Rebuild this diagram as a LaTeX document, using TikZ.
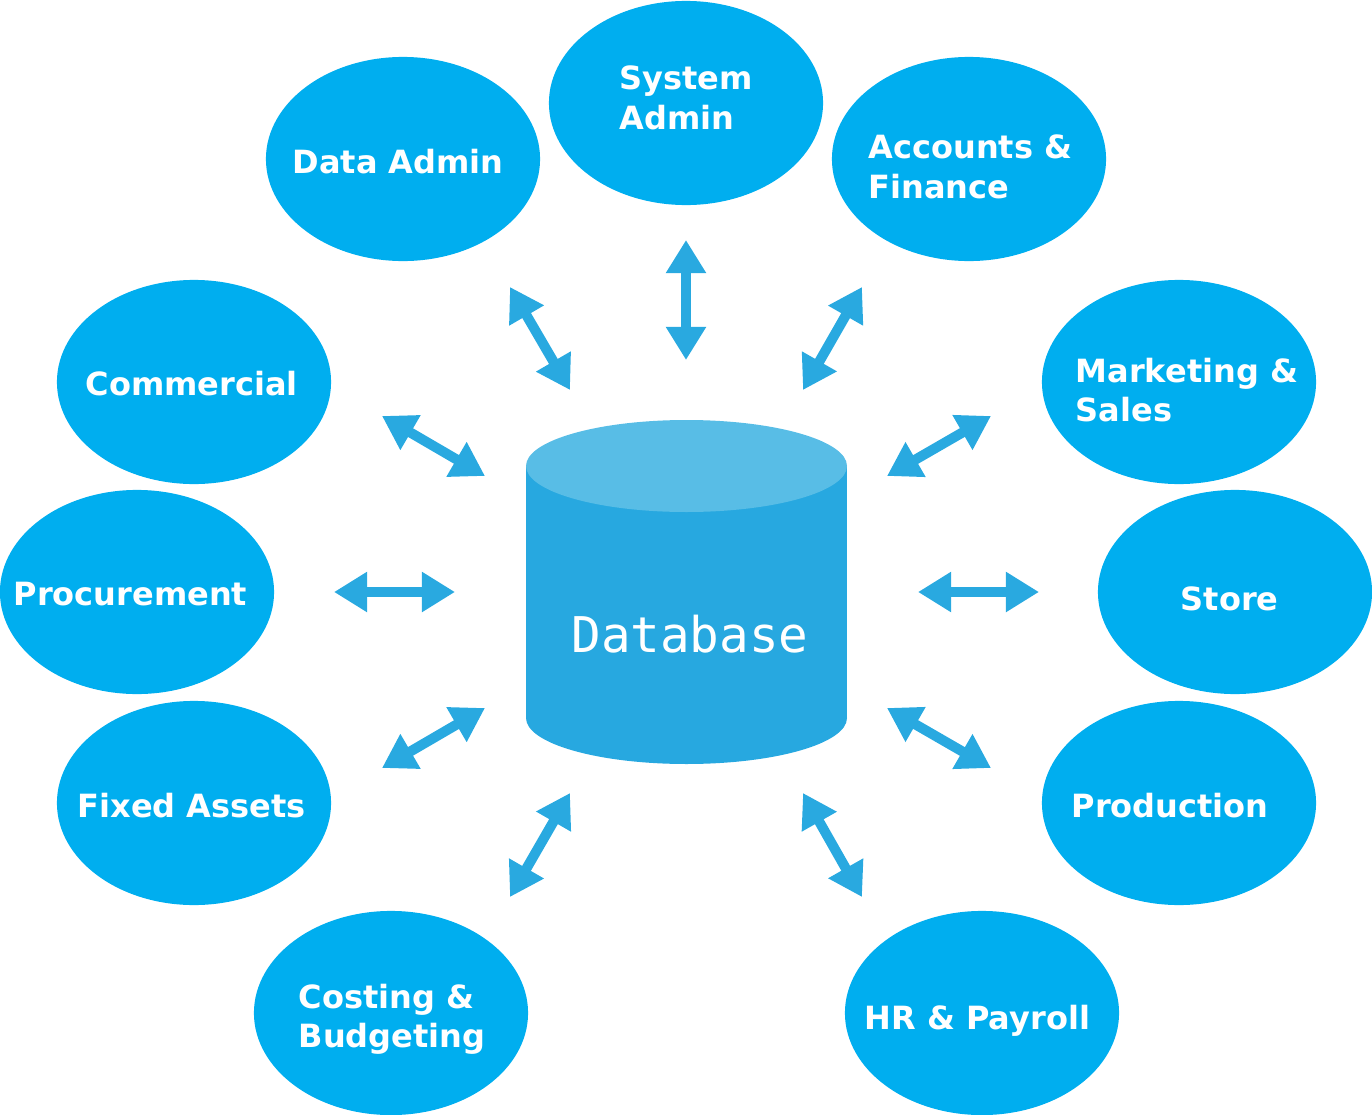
\documentclass[tikz,border=0pt]{standalone}
\usepackage{fontspec}
\setmainfont{DejaVu Sans}
\newfontfamily\dbmono{DejaVu Sans Mono}
\usetikzlibrary{shapes.geometric,arrows.meta}
\definecolor{unitblue}{HTML}{00AEEF}
\definecolor{linkblue}{HTML}{29A9E0}
\definecolor{dbside}{HTML}{27A8E0}
\definecolor{dbtop}{HTML}{58BDE6}

\begin{document}
\begin{tikzpicture}[x=0.01cm,y=-0.01cm,
    unit/.style={ellipse,fill=unitblue,minimum width=2.74cm,minimum height=2.04cm,inner sep=0pt},
    unittext/.style={anchor=west,align=left,inner sep=0pt,text=white,font=\fontsize{9.1}{11.2}\selectfont\bfseries},
    link/.style={linkblue,line width=0.1cm,{Triangle[length=0.33cm,width=0.38cm]}-{Triangle[length=0.33cm,width=0.38cm]}}]
  \useasboundingbox (0,0) rectangle (1372,1115);

  % Departments
  \node[unit] (data) at (403,159) {};
  \node[unit] (sys) at (686,103) {};
  \node[unit] (acc) at (969,159) {};
  \node[unit] (com) at (194,382) {};
  \node[unit] (mkt) at (1179,382) {};
  \node[unit] (proc) at (137,592) {};
  \node[unit] (store) at (1235,592) {};
  \node[unit] (fix) at (194,803) {};
  \node[unit] (prod) at (1179,803) {};
  \node[unit] (cost) at (391,1013) {};
  \node[unit] (hr) at (982,1013) {};

  \node[unittext] (datatxt) at (292,162) {Data Admin};
  \node[unittext] (systxt) at (619,98) {System\\Admin};
  \node[unittext] (acctxt) at (868,167) {Accounts \&\\Finance};
  \node[unittext] (comtxt) at (85,384) {Commercial};
  \node[unittext] (mkttxt) at (1075,390) {Marketing \&\\Sales};
  \node[unittext] (proctxt) at (13,594) {Procurement};
  \node[unittext] (storetxt) at (1180,599) {Store};
  \node[unittext] (fixtxt) at (77,806) {Fixed Assets};
  \node[unittext] (prodtxt) at (1071,806) {Production};
  \node[unittext] (costtxt) at (298,1019) {Costing \&\\Budgeting};
  \node[unittext] (hrtxt) at (864,1021) {HR \& Payroll};

  % Database cylinder
  \fill[dbside] (526,466) rectangle (847,718);
  \fill[dbside] (686.5,718) ellipse [x radius=160.5, y radius=46];
  \fill[dbtop] (686.5,466) ellipse [x radius=160.5, y radius=46];
  \node[text=white,inner sep=0pt,font=\dbmono\fontsize{14}{16}\selectfont] (db) at (690,634) {Database};

  % Arrow ends
  \coordinate (sys-a) at (686,240);   \coordinate (sys-b) at (686,360);
  \coordinate (data-a) at (510,287);  \coordinate (data-b) at (570,390);
  \coordinate (acc-a) at (862,287);   \coordinate (acc-b) at (803,390);
  \coordinate (com-a) at (382,416);   \coordinate (com-b) at (485,476);
  \coordinate (mkt-a) at (991,416);   \coordinate (mkt-b) at (887,476);
  \coordinate (proc-a) at (334,592);  \coordinate (proc-b) at (455,592);
  \coordinate (store-a) at (1039,592);\coordinate (store-b) at (918,592);
  \coordinate (fix-a) at (382,768);   \coordinate (fix-b) at (485,708);
  \coordinate (prod-a) at (991,768);  \coordinate (prod-b) at (887,708);
  \coordinate (cost-a) at (510,897);  \coordinate (cost-b) at (570,793);
  \coordinate (hr-a) at (862,897);    \coordinate (hr-b) at (803,793);

  % Links
  \draw[link] (sys-a) -- (sys-b);
  \draw[link] (data-a) -- (data-b);
  \draw[link] (acc-a) -- (acc-b);
  \draw[link] (com-a) -- (com-b);
  \draw[link] (mkt-a) -- (mkt-b);
  \draw[link] (proc-a) -- (proc-b);
  \draw[link] (store-a) -- (store-b);
  \draw[link] (fix-a) -- (fix-b);
  \draw[link] (prod-a) -- (prod-b);
  \draw[link] (cost-a) -- (cost-b);
  \draw[link] (hr-a) -- (hr-b);
\end{tikzpicture}
\end{document}
